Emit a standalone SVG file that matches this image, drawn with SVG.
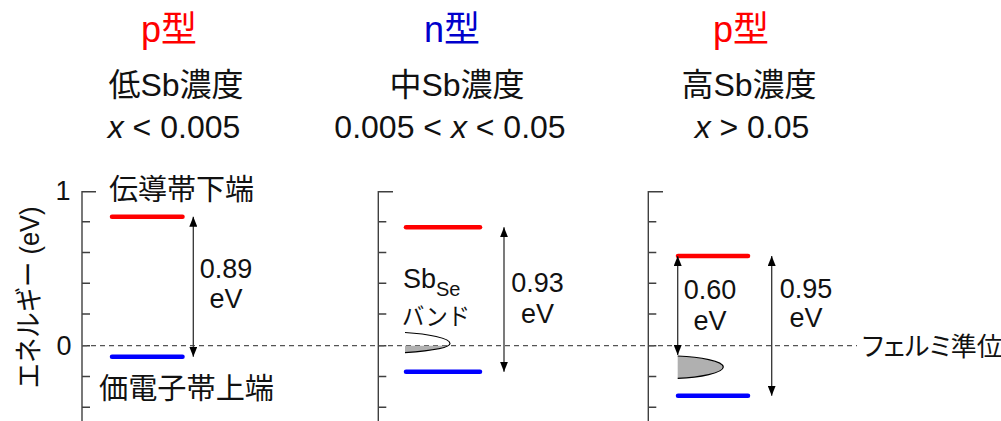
<svg xmlns="http://www.w3.org/2000/svg" width="1001" height="421" viewBox="0 0 1001 421">
<defs>
<style>
text{font-family:"Liberation Sans","Noto Sans CJK JP",Arial,sans-serif;fill:#111}
.h{font-size:36px;text-anchor:middle}
.sub{font-size:32px;text-anchor:middle}
.lab{font-size:27px;text-anchor:middle}
.jp{font-size:28px}
.palt{font-feature-settings:"palt"}
.axis{stroke:#404040;stroke-width:1.4;fill:none}
.red{stroke:#ff0000;stroke-width:4.5;stroke-linecap:round}
.blue{stroke:#0000ff;stroke-width:4.5;stroke-linecap:round}
.arr{stroke:#333;stroke-width:1.3;fill:none;marker-start:url(#ah);marker-end:url(#ah)}
.fermi{stroke:#555;stroke-width:1.2;stroke-dasharray:5,4;fill:none}
</style>
<marker id="ah" viewBox="0 0 10 8" refX="10" refY="4" markerWidth="10" markerHeight="8" markerUnits="userSpaceOnUse" orient="auto-start-reverse">
<path d="M0,0 L10,4 L0,8 z" fill="#000"/>
</marker>
<clipPath id="below"><rect x="380" y="345.7" width="100" height="20"/></clipPath>
</defs>

<g id="headers">
<text class="h" x="169" y="42" style="fill:#ff0000">p型</text>
<text class="h" x="452" y="42" style="fill:#0000cc">n型</text>
<text class="h" x="741" y="42" style="fill:#ff0000">p型</text>
<text class="sub" x="176" y="96">低Sb濃度</text>
<text class="sub" x="457" y="96">中Sb濃度</text>
<text class="sub" x="749" y="96">高Sb濃度</text>
<text class="sub" x="174" y="138"><tspan font-style="italic">x</tspan> &lt; 0.005</text>
<text class="sub" x="450" y="138">0.005 &lt; <tspan font-style="italic">x</tspan> &lt; 0.05</text>
<text class="sub" x="752" y="138"><tspan font-style="italic">x</tspan> &gt; 0.05</text>
</g>

<g id="yaxis-label">
<text class="jp" x="0" y="0" text-anchor="middle" textLength="182" lengthAdjust="spacingAndGlyphs" transform="translate(38.5,297.5) rotate(-90)">エネルギー (eV)</text>
<text class="lab" x="63" y="200">1</text>
<text class="lab" x="64" y="355">0</text>
</g>

<g id="axes">
<path class="axis" d="M96,191.7 H82 V421 M82,221.7 h8 M82,252.5 h8 M82,283.3 h8 M82,314 h8 M82,345.7 h8 M82,376.5 h8 M82,407.3 h8"/>
<path class="axis" d="M393,191.7 H378.3 V421 M378.3,221.7 h8 M378.3,252.5 h8 M378.3,283.3 h8 M378.3,314 h8 M378.3,345.7 h8 M378.3,376.5 h8 M378.3,407.3 h8"/>
<path class="axis" d="M663,191.7 H648.3 V421 M648.3,221.7 h8 M648.3,252.5 h8 M648.3,283.3 h8 M648.3,314 h8 M648.3,345.7 h8 M648.3,376.5 h8 M648.3,407.3 h8"/>
</g>

<g id="fermi-level">
<line class="fermi" x1="82" y1="345.7" x2="857" y2="345.7"/>
<text class="palt" x="862" y="356" style="font-size:26px">フェルミ準位</text>
</g>

<g id="panel-low">
<line class="red" x1="112" y1="216.7" x2="182.5" y2="216.7"/>
<line class="blue" x1="112" y1="356.7" x2="182.5" y2="356.7"/>
<text x="109" y="200" style="font-size:29px" textLength="145" lengthAdjust="spacingAndGlyphs">伝導帯下端</text>
<text x="99" y="398.5" style="font-size:29px" textLength="175" lengthAdjust="spacingAndGlyphs">価電子帯上端</text>
<text class="lab" x="226" y="278">0.89</text>
<text class="lab" x="226" y="308">eV</text>
</g>

<g id="panel-mid">
<line class="red" x1="406" y1="227.3" x2="480" y2="227.3"/>
<line class="blue" x1="406" y1="371.7" x2="480" y2="371.7"/>
<path d="M405,332.5 C428,334 450,338 450,343.5 C450,348 428,351 405,352.7 Z" fill="#b0b0b0" stroke="none" clip-path="url(#below)"/>
<path d="M405,332.5 C428,334 450,338 450,343.5 C450,348 428,351 405,352.7" fill="none" stroke="#000" stroke-width="1.2"/>
<text x="403" y="288" style="font-size:27px">Sb<tspan font-size="20" dy="8">Se</tspan></text>
<text x="402" y="325" style="font-size:24px" textLength="68" lengthAdjust="spacingAndGlyphs">バンド</text>
<text class="lab" x="537.5" y="292">0.93</text>
<text class="lab" x="537.5" y="323">eV</text>
</g>

<g id="panel-high">
<line class="red" x1="678" y1="256" x2="748" y2="256"/>
<line class="blue" x1="678" y1="395.7" x2="748" y2="395.7"/>
<path d="M677.7,356 C700,357 723,361 723.3,367 C723,373 700,377.5 677.7,378.3 Z" fill="#b0b0b0" stroke="none"/>
<path d="M677.7,356 C700,357 723,361 723.3,367 C723,373 700,377.5 677.7,378.3" fill="none" stroke="#000" stroke-width="1.2"/>
<text class="lab" x="710" y="299">0.60</text>
<text class="lab" x="710" y="330">eV</text>
<text class="lab" x="806" y="298">0.95</text>
<text class="lab" x="806" y="327">eV</text>
</g>

<g id="connectors">
<line class="arr" x1="193.3" y1="216.7" x2="193.3" y2="356.7"/>
<line class="arr" x1="504" y1="227.3" x2="504" y2="371.7"/>
<line class="arr" x1="677.7" y1="256" x2="677.7" y2="355"/>
<line class="arr" x1="771.7" y1="256" x2="771.7" y2="395.7"/>
</g>
</svg>
